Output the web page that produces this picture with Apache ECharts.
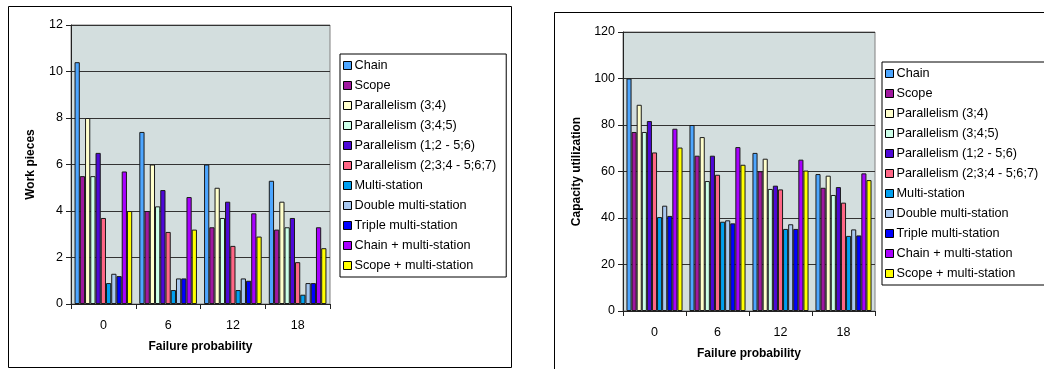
<!DOCTYPE html>
<html>
<head>
<meta charset="utf-8">
<script src="https://cdn.jsdelivr.net/npm/echarts@6/dist/echarts.min.js"></script>
<style>
  html, body { margin: 0; padding: 0; background: #fff; }
  #chart { width: 1044px; height: 369px; }
</style>
</head>
<body>
<div id="chart"></div>
<script>
// Failure probability levels on the x axis
const categories = ['0', '6', '12', '18'];

const seriesNames = [
  'Chain', 'Scope', 'Parallelism (3;4)', 'Parallelism (3;4;5)',
  'Parallelism (1;2 - 5;6)', 'Parallelism (2;3;4 - 5;6;7)',
  'Multi-station', 'Double multi-station', 'Triple multi-station',
  'Chain + multi-station', 'Scope + multi-station'
];

const seriesColors = [
  '#4DA6FF', '#A0189F', '#FFFFCC', '#CCFFE8', '#4E08D8', '#FF6685',
  '#00A0F0', '#A8C8F0', '#0000FF', '#A800FF', '#FFFF00'
];

// Work pieces per configuration, one value per failure probability
const wpChain        = [10.4, 7.4, 6.0, 5.3];
const wpScope        = [5.5, 4.0, 3.3, 3.2];
const wpPar34        = [8.0, 6.0, 5.0, 4.4];
const wpPar345       = [5.5, 4.2, 3.7, 3.3];
const wpPar12_56     = [6.5, 4.9, 4.4, 3.7];
const wpPar234_567   = [3.7, 3.1, 2.5, 1.8];
const wpMulti        = [0.9, 0.6, 0.6, 0.4];
const wpDoubleMulti  = [1.3, 1.1, 1.1, 0.9];
const wpTripleMulti  = [1.2, 1.1, 1.0, 0.9];
const wpChainMulti   = [5.7, 4.6, 3.9, 3.3];
const wpScopeMulti   = [4.0, 3.2, 2.9, 2.4];

// Capacity utilization per configuration
const cuChain        = [100, 80, 68, 58.9];
const cuScope        = [77, 66.8, 60.1, 53];
const cuPar34        = [88.7, 74.8, 65.5, 58.2];
const cuPar345       = [77, 55.9, 52.5, 49.9];
const cuPar12_56     = [81.7, 66.8, 53.9, 53.3];
const cuPar234_567   = [68.2, 58.6, 52.3, 46.6];
const cuMulti        = [40.4, 38.4, 35.3, 32.3];
const cuDoubleMulti  = [45.3, 39, 37.3, 35.1];
const cuTripleMulti  = [40.9, 37.7, 35.3, 32.5];
const cuChainMulti   = [78.4, 70.5, 65.1, 59.2];
const cuScopeMulti   = [70.3, 62.9, 60.4, 56.3];

const workPieces = [wpChain, wpScope, wpPar34, wpPar345, wpPar12_56, wpPar234_567,
  wpMulti, wpDoubleMulti, wpTripleMulti, wpChainMulti, wpScopeMulti];
const capacity = [cuChain, cuScope, cuPar34, cuPar345, cuPar12_56, cuPar234_567,
  cuMulti, cuDoubleMulti, cuTripleMulti, cuChainMulti, cuScopeMulti];

const FONT = '"Liberation Sans", Arial, sans-serif';
const axisDark = '#222';

function xAxisFor(gridIndex) {
  return {
    type: 'category', gridIndex, data: categories,
    name: 'Failure probability', nameLocation: 'middle', nameGap: 37,
    nameTextStyle: { fontFamily: FONT, fontSize: 12, fontWeight: 'bold', color: '#000' },
    axisLine: { lineStyle: { color: axisDark, width: 1 } },
    axisTick: { show: true, alignWithLabel: false, length: 5, lineStyle: { color: axisDark } },
    axisLabel: { fontFamily: FONT, fontSize: 12.5, color: '#000', margin: 15 },
    splitLine: { show: false }
  };
}

function yAxisFor(gridIndex, name, max, interval, nameGap) {
  return {
    type: 'value', gridIndex, min: 0, max, interval,
    name, nameLocation: 'middle', nameGap, nameRotate: 90,
    nameTextStyle: { fontFamily: FONT, fontSize: 12, fontWeight: 'bold', color: '#000' },
    axisLine: { show: true, lineStyle: { color: axisDark, width: 1 } },
    axisTick: { show: true, length: 5, lineStyle: { color: axisDark } },
    axisLabel: { fontFamily: FONT, fontSize: 12.5, color: '#000', margin: 8 },
    splitLine: { show: true, lineStyle: { color: '#333', width: 1 } }
  };
}

function legendFor(left, top) {
  return {
    left, top, orient: 'vertical',
    data: seriesNames,
    icon: 'rect', itemWidth: 8, itemHeight: 8, itemGap: 7,
    backgroundColor: '#fff', borderColor: '#000', borderWidth: 1,
    padding: [5, 10, 5, 3],
    itemStyle: { borderColor: '#000', borderWidth: 1 },
    textStyle: { fontFamily: FONT, fontSize: 12.7, color: '#000', padding: [0, 0, 0, -2] },
    selectedMode: false
  };
}

const series = [];
seriesNames.forEach((name, i) => {
  series.push({
    name, type: 'bar', xAxisIndex: 0, yAxisIndex: 0, data: workPieces[i],
    barGap: '0%', barCategoryGap: '11%',
    itemStyle: { color: seriesColors[i], borderColor: '#1a1a1a', borderWidth: 1 },
    emphasis: { disabled: true }
  });
  series.push({
    name, type: 'bar', xAxisIndex: 1, yAxisIndex: 1, data: capacity[i],
    barGap: '0%', barCategoryGap: '11%',
    itemStyle: { color: seriesColors[i], borderColor: '#1a1a1a', borderWidth: 1 },
    emphasis: { disabled: true }
  });
});

const chart = echarts.init(document.getElementById('chart'), null, { renderer: 'canvas' });
chart.setOption({
  animation: false,
  backgroundColor: '#fff',
  graphic: [
    { type: 'rect', shape: { x: 8.5, y: 6.5, width: 503, height: 361 },
      style: { fill: 'none', stroke: '#000', lineWidth: 1 }, z: -10, silent: true },
    { type: 'rect', shape: { x: 554.5, y: 12.5, width: 600, height: 400 },
      style: { fill: 'none', stroke: '#000', lineWidth: 1 }, z: -10, silent: true }
  ],
  grid: [
    { left: 71, top: 25, width: 259, height: 279, show: true,
      backgroundColor: '#D3DEDE', borderColor: '#808080', borderWidth: 1 },
    { left: 623, top: 32, width: 252, height: 279, show: true,
      backgroundColor: '#D3DEDE', borderColor: '#808080', borderWidth: 1 }
  ],
  legend: [legendFor(340, 54), legendFor(882, 62)],
  xAxis: [xAxisFor(0), xAxisFor(1)],
  yAxis: [
    yAxisFor(0, 'Work pieces', 12, 2, 34),
    yAxisFor(1, 'Capacity utilization', 120, 20, 40)
  ],
  series
});
</script>
</body>
</html>
